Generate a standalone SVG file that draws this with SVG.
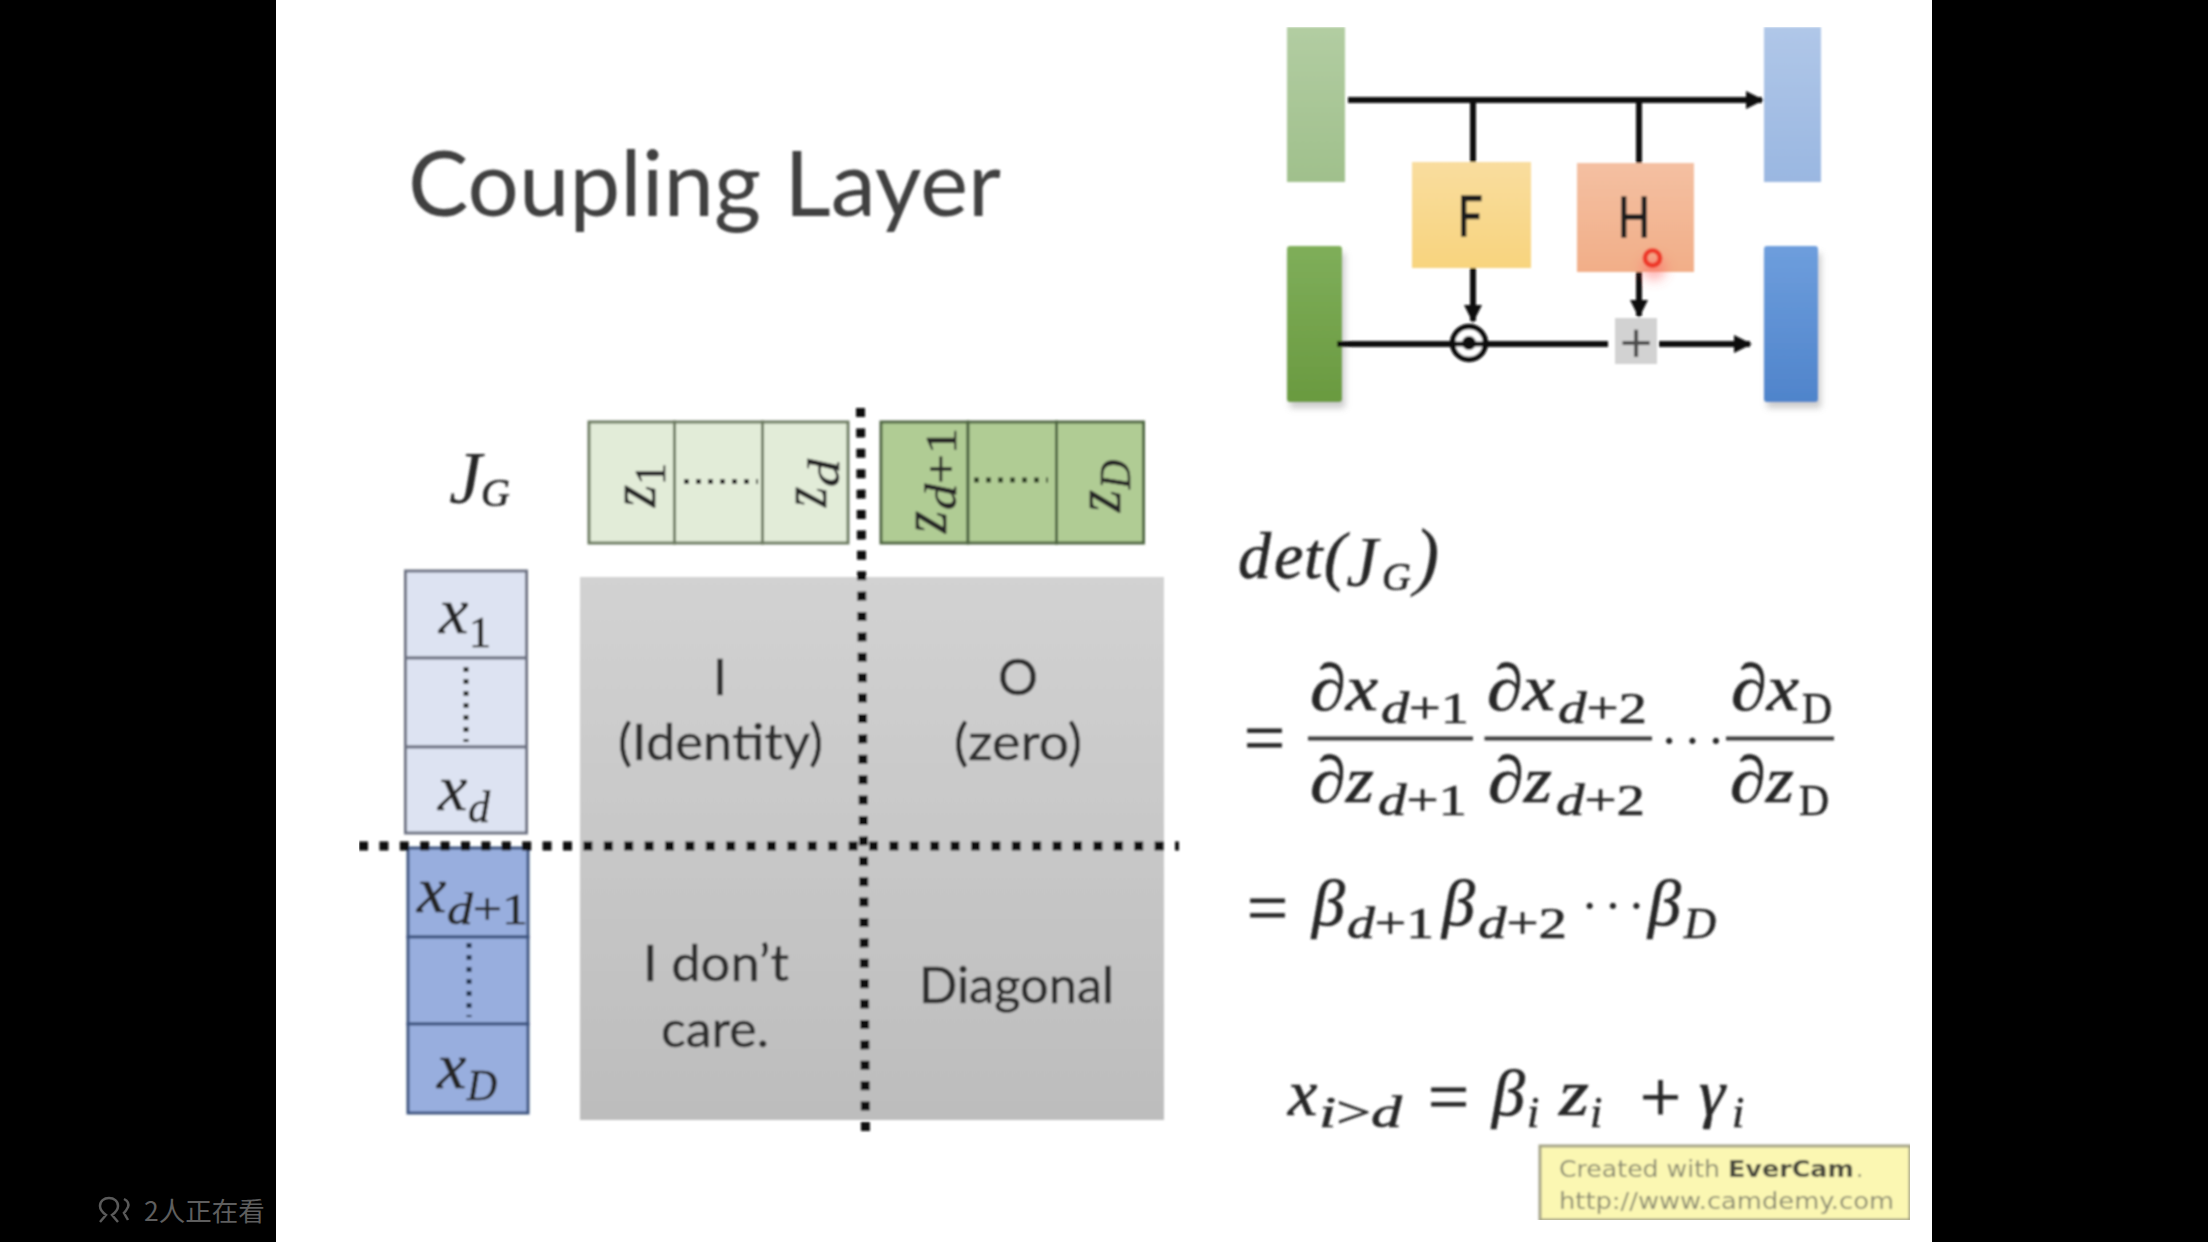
<svg xmlns="http://www.w3.org/2000/svg" width="2208" height="1242" viewBox="0 0 2208 1242">
<style>
.cal{font-family:"Lato","Open Sans",sans-serif;fill:#2f2f2f;stroke:#2f2f2f;stroke-width:.5}
.m{font-family:"Liberation Serif",serif;font-style:italic;font-size:66px;fill:#262626;stroke:#262626;stroke-width:.7}
.s{font-family:"Liberation Serif",serif;font-style:italic;font-size:44px;fill:#262626;stroke:#262626;stroke-width:.6}
.u{font-style:normal}
.r{font-family:"Liberation Serif",serif;font-size:72px;fill:#262626;stroke:#262626;stroke-width:.8}
.el{font-family:"Liberation Serif",serif;font-size:52px;letter-spacing:6px;fill:#262626}
.conn{stroke:#0c0c0c;stroke-width:6;fill:none}
.dots{stroke:#0c0c0c;stroke-width:9;stroke-dasharray:9 11.400;fill:none}
.fine{stroke:#2c2c2c;stroke-width:5;stroke-dasharray:5 7;fill:none}
.bar{stroke:#3c3c3c;stroke-width:4;fill:none}
.cellL{fill:#e2ecd8;stroke:#6d7c62;stroke-width:3}
.cellD{fill:#b0cc94;stroke:#4f6643;stroke-width:3}
.cellX{fill:#dde3f2;stroke:#6e7383;stroke-width:3}
.cellY{fill:#98aede;stroke:#3e5480;stroke-width:3}
.ev{font-family:"DejaVu Sans",sans-serif;font-size:23px;fill:#8c8c72}
</style>
<defs>
<linearGradient id="gGray" x1="0" y1="0" x2="0" y2="1"><stop offset="0" stop-color="#d2d2d2"/><stop offset="1" stop-color="#bdbdbd"/></linearGradient>
<linearGradient id="gG1" x1="0" y1="0" x2="0" y2="1"><stop offset="0" stop-color="#b2cda2"/><stop offset="1" stop-color="#a0c08c"/></linearGradient>
<linearGradient id="gG2" x1="0" y1="0" x2="0" y2="1"><stop offset="0" stop-color="#7fae5a"/><stop offset="1" stop-color="#6a9a40"/></linearGradient>
<linearGradient id="gB1" x1="0" y1="0" x2="0" y2="1"><stop offset="0" stop-color="#b0c7e8"/><stop offset="1" stop-color="#9ab7e1"/></linearGradient>
<linearGradient id="gB2" x1="0" y1="0" x2="0" y2="1"><stop offset="0" stop-color="#6e9edd"/><stop offset="1" stop-color="#4f84cb"/></linearGradient>
<linearGradient id="gF" x1="0" y1="0" x2="0" y2="1"><stop offset="0" stop-color="#f9dd9e"/><stop offset="1" stop-color="#f8d47e"/></linearGradient>
<linearGradient id="gH" x1="0" y1="0" x2="0" y2="1"><stop offset="0" stop-color="#f4c0a2"/><stop offset="1" stop-color="#f2ae88"/></linearGradient>
<filter id="soft" x="0" y="0" width="100%" height="100%"><feGaussianBlur stdDeviation="0.9"/></filter>
<filter id="glow" x="-100%" y="-100%" width="300%" height="300%"><feGaussianBlur stdDeviation="6"/></filter>
<filter id="shadow" x="-30%" y="-10%" width="160%" height="120%"><feGaussianBlur stdDeviation="3"/></filter>
<marker id="arrow" viewBox="0 0 18 18" refX="16" refY="9" markerWidth="18" markerHeight="18" markerUnits="userSpaceOnUse" orient="auto"><path d="M0 0L18 9L0 18Z" fill="#0c0c0c"/></marker>
</defs>
<rect width="2208" height="1242" fill="#000"/>
<rect x="276" width="1656" height="1242" fill="#fff"/>
<g id="viewers">
<path d="M100 1222l6-7c-4-3-6-6-6-9 0-5 4-8 9-8s9 3 9 8c0 3-2 6-6 9l6 7M124 1199c4 2 5 5 4 8-1 2-2 4-4 6l4 7" fill="none" stroke="#5a5a5a" stroke-width="2.500"/>
<text x="144" y="1221" font-family="'Noto Sans CJK SC',sans-serif" font-size="26.500" fill="#5e5e5e">2人正在看</text>
</g>
<g filter="url(#soft)">
<g id="title"><text class="cal" x="408" y="216" font-size="92" textLength="593" lengthAdjust="spacingAndGlyphs" style="fill:#404040;stroke:none;font-weight:400">Coupling Layer</text></g>

<g id="input-top"><rect x="1287" y="27" width="58" height="155" fill="url(#gG1)"/></g>
<g id="input-bottom"><rect x="1290" y="253" width="55" height="155" fill="#999" opacity=".5" filter="url(#shadow)"/><rect x="1287" y="246" width="55" height="156" rx="3" fill="url(#gG2)"/></g>
<g id="output-top"><rect x="1764" y="27" width="57" height="155" fill="url(#gB1)"/></g>
<g id="output-bottom"><rect x="1767" y="253" width="54" height="155" fill="#999" opacity=".5" filter="url(#shadow)"/><rect x="1764" y="246" width="54" height="156" rx="3" fill="url(#gB2)"/></g>
<g id="node-F"><rect x="1412" y="162" width="119" height="106" fill="url(#gF)"/><text class="cal" x="1470" y="236" font-size="56" text-anchor="middle" textLength="25" lengthAdjust="spacingAndGlyphs" style="fill:#1c1c1c;stroke:#1c1c1c;stroke-width:1.400">F</text></g>
<g id="node-H"><rect x="1577" y="163" width="117" height="109" fill="url(#gH)"/><text class="cal" x="1634" y="237" font-size="56" text-anchor="middle" textLength="32" lengthAdjust="spacingAndGlyphs" style="fill:#1c1c1c;stroke:#1c1c1c;stroke-width:1.400">H</text></g>

<g id="connectors">
<path class="conn" d="M1348 100H1762" marker-end="url(#arrow)"/>
<path class="conn" d="M1473 100V162"/>
<path class="conn" d="M1639 100V163"/>
<path class="conn" d="M1473 268V321" marker-end="url(#arrow)"/>
<path class="conn" d="M1639 272V316" marker-end="url(#arrow)"/>
<path class="conn" d="M1337 344H1608"/>
<path class="conn" d="M1659 344H1750" marker-end="url(#arrow)"/>
</g>
<g id="odot"><circle cx="1469" cy="343" r="16.500" fill="#fff" stroke="#0c0c0c" stroke-width="5.500"/><circle cx="1469" cy="343" r="7" fill="#0c0c0c"/><path d="M1453 344H1485" stroke="#0c0c0c" stroke-width="5"/></g>
<g id="plus"><rect x="1615" y="318" width="42" height="46" fill="#d2d2d2"/><text x="1636" y="362" font-family="'Liberation Sans',sans-serif" font-size="56" text-anchor="middle" fill="#4c4c4c">+</text></g>
<g id="pointer"><circle cx="1654" cy="268" r="12" fill="#f66" opacity=".5" filter="url(#glow)"/><circle cx="1652.500" cy="258" r="7.500" fill="none" stroke="#ee3a2a" stroke-width="5"/></g>

<g id="jacobian-label"><text class="m" x="449" y="503" style="font-size:74px;stroke:none">J<tspan class="s" x="481" y="506" style="font-size:40px">G</tspan></text></g>

<g id="z-left">
<rect class="cellL" x="589" y="422" width="85.500" height="121"/><rect class="cellL" x="674.500" y="422" width="88" height="121"/><rect class="cellL" x="762.500" y="422" width="85.500" height="121"/>
<path class="fine" d="M684 481.500H758"/>
<g transform="translate(655 507) rotate(-90)"><text class="m" textLength="22" lengthAdjust="spacingAndGlyphs">z</text><text class="s" x="22" y="10"><tspan class="u">1</tspan></text></g>
<g transform="translate(826 507) rotate(-90)"><text class="m" textLength="20" lengthAdjust="spacingAndGlyphs">z</text><text class="s" x="20" y="13" textLength="28" lengthAdjust="spacingAndGlyphs">d</text></g>
</g>
<g id="z-right">
<rect class="cellD" x="881" y="422" width="87" height="121"/><rect class="cellD" x="968" y="422" width="88.500" height="121"/><rect class="cellD" x="1056.500" y="422" width="87" height="121"/>
<path class="fine" d="M974 480H1048" style="stroke:#2c3a24"/>
<g transform="translate(946 533) rotate(-90)"><text class="m" textLength="22" lengthAdjust="spacingAndGlyphs">z</text><text class="s" x="23" y="10" textLength="82" lengthAdjust="spacingAndGlyphs">d<tspan class="u">+1</tspan></text></g>
<g transform="translate(1120 512) rotate(-90)"><text class="m" textLength="22" lengthAdjust="spacingAndGlyphs">z</text><text class="s" x="23" y="10" textLength="29" lengthAdjust="spacingAndGlyphs">D</text></g>
</g>
<g id="x-top">
<rect class="cellX" x="405.500" y="571" width="121" height="87"/><rect class="cellX" x="405.500" y="658" width="121" height="89"/><rect class="cellX" x="405.500" y="747" width="121" height="86"/>
<path class="fine" d="M466 667V742"/>
<text class="m" x="439" y="633">x</text><text class="s" x="469" y="647"><tspan class="u">1</tspan></text>
<text class="m" x="438" y="810">x</text><text class="s" x="468" y="822">d</text>
</g>
<g id="x-bottom">
<rect class="cellY" x="408" y="848" width="120" height="89"/><rect class="cellY" x="408" y="937" width="120" height="87"/><rect class="cellY" x="408" y="1024" width="120" height="89"/>
<path class="fine" d="M469 943V1017" style="stroke:#22304e"/>
<text class="m" x="417" y="912">x</text><text class="s" x="447" y="924" textLength="81" lengthAdjust="spacingAndGlyphs">d<tspan class="u">+1</tspan></text>
<text class="m" x="437" y="1088">x</text><text class="s" x="467" y="1100" textLength="30" lengthAdjust="spacingAndGlyphs">D</text>
</g>
<g id="matrix">
<rect x="580" y="577" width="584" height="543" fill="url(#gGray)"/>
<text class="cal" x="720" y="695" font-size="50" text-anchor="middle">I</text>
<text class="cal" x="618" y="760" font-size="50" textLength="205" lengthAdjust="spacingAndGlyphs">(Identity)</text>
<text class="cal" x="1018" y="695" font-size="50" text-anchor="middle">O</text>
<text class="cal" x="954" y="760" font-size="50" textLength="128" lengthAdjust="spacingAndGlyphs">(zero)</text>
<text class="cal" x="643" y="981" font-size="50" textLength="146" lengthAdjust="spacingAndGlyphs">I don’t</text>
<text class="cal" x="661" y="1047" font-size="50" textLength="108" lengthAdjust="spacingAndGlyphs">care.</text>
<text class="cal" x="919" y="1003" font-size="50" textLength="195" lengthAdjust="spacingAndGlyphs">Diagonal</text>
</g>
<g id="partition">
<path class="dots" d="M359 846H1179"/>
<path class="dots" d="M860.500 408L865.500 1140"/>
</g>

<g id="det"><text class="m" x="1238 1274 1304 1324" y="578">det(<tspan x="1346" y="586" style="font-size:72px;stroke:none">J</tspan><tspan class="s" x="1382" y="590" style="font-size:40px">G</tspan><tspan class="r" x="1414" y="581" style="font-size:76px;stroke:none">)</tspan></text></g>
<g id="eq-fraction">
<text class="r" x="1244" y="762" textLength="41" lengthAdjust="spacingAndGlyphs">=</text>
<path class="bar" d="M1308 738.500H1473M1484.500 738.500H1652M1726 738.500H1834"/>
<text class="m" x="1310" y="710" textLength="68" lengthAdjust="spacingAndGlyphs">∂x</text><text class="s" x="1381" y="723" textLength="88" lengthAdjust="spacingAndGlyphs">d<tspan class="u">+1</tspan></text>
<text class="m" x="1487" y="710" textLength="68" lengthAdjust="spacingAndGlyphs">∂x</text><text class="s" x="1558" y="723" textLength="89" lengthAdjust="spacingAndGlyphs">d<tspan class="u">+2</tspan></text>
<text class="m" x="1731" y="710" textLength="68" lengthAdjust="spacingAndGlyphs">∂x</text><text class="s u" x="1802" y="723" textLength="30" lengthAdjust="spacingAndGlyphs">D</text>
<text class="m" x="1310" y="802" textLength="64" lengthAdjust="spacingAndGlyphs">∂z</text><text class="s" x="1378" y="815" textLength="89" lengthAdjust="spacingAndGlyphs">d<tspan class="u">+1</tspan></text>
<text class="m" x="1488" y="802" textLength="64" lengthAdjust="spacingAndGlyphs">∂z</text><text class="s" x="1556" y="815" textLength="89" lengthAdjust="spacingAndGlyphs">d<tspan class="u">+2</tspan></text>
<text class="m" x="1730" y="802" textLength="64" lengthAdjust="spacingAndGlyphs">∂z</text><text class="s u" x="1799" y="815" textLength="30" lengthAdjust="spacingAndGlyphs">D</text>
<text class="el" x="1660.500" y="758">···</text>
</g>
<g id="eq-beta">
<text class="r" x="1247" y="932" textLength="41" lengthAdjust="spacingAndGlyphs">=</text>
<text class="m" x="1312" y="925">β</text><text class="s" x="1347" y="938" textLength="87" lengthAdjust="spacingAndGlyphs">d<tspan class="u">+1</tspan></text>
<text class="m" x="1442" y="925">β</text><text class="s" x="1478" y="938" textLength="89" lengthAdjust="spacingAndGlyphs">d<tspan class="u">+2</tspan></text>
<text class="el" x="1581" y="923">···</text>
<text class="m" x="1648" y="925">β</text><text class="s" x="1684" y="938" textLength="32" lengthAdjust="spacingAndGlyphs">D</text>
</g>
<g id="eq-x">
<text class="m" x="1288" y="1115">x</text><text class="s" x="1319" y="1127" textLength="83" lengthAdjust="spacingAndGlyphs">i<tspan class="u">&gt;</tspan>d</text>
<text class="r" x="1428" y="1121" textLength="41" lengthAdjust="spacingAndGlyphs">=</text>
<text class="m" x="1492" y="1115">β</text><text class="s" x="1527" y="1127">i</text>
<text class="m" x="1559" y="1115" textLength="30" lengthAdjust="spacingAndGlyphs">z</text><text class="s" x="1590" y="1127">i</text>
<text class="r" x="1640" y="1121" textLength="41" lengthAdjust="spacingAndGlyphs">+</text>
<text class="m" x="1699" y="1115">γ</text><text class="s" x="1732" y="1127">i</text>
</g>
<g id="evercam">
<rect x="1540" y="1146" width="370" height="74" fill="#fbf7b2" stroke="#a5a487" stroke-width="3"/>
<text class="ev" x="1559" y="1177" textLength="161" lengthAdjust="spacingAndGlyphs">Created with</text>
<text class="ev" x="1728" y="1177" textLength="126" lengthAdjust="spacingAndGlyphs" style="font-weight:700;fill:#4a4a3c">EverCam</text>
<text class="ev" x="1856" y="1177">.</text>
<text class="ev" x="1559" y="1209" textLength="335" lengthAdjust="spacingAndGlyphs">http://www.camdemy.com</text>
</g>
</g>
</svg>
